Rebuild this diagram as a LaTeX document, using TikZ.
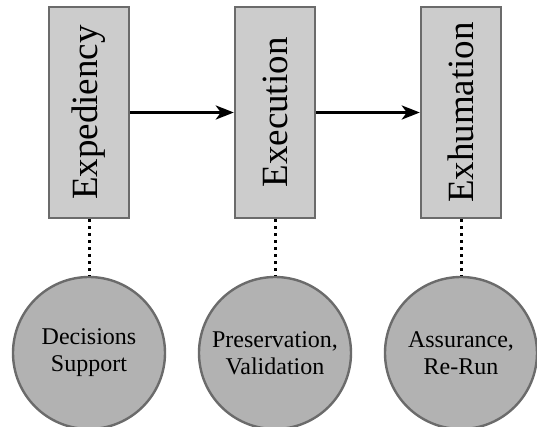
\documentclass[tikz,border=0pt]{standalone}
\usepackage{fontspec}
\setmainfont{LiberationSerif}[Extension=.ttf, UprightFont=*-Regular, BoldFont=*-Bold]
\usetikzlibrary{positioning,arrows.meta}

\begin{document}
\begin{tikzpicture}[x=0.5pt,y=-0.5pt,
    stage/.style={draw=black!58, fill=black!20, line width=1.2pt, rotate=90,
      minimum width=105.5pt, minimum height=40pt, inner sep=0pt,
      font=\rmfamily\fontsize{18.5}{22}\selectfont},
    role/.style={circle, draw=black!58, fill=black!30, line width=1.2pt,
      minimum size=76pt, inner sep=0pt, align=center,
      font=\rmfamily\fontsize{12}{13.5}\selectfont}]
    \useasboundingbox (0,0) rectangle (537,427);

    % Stages
    \node[stage] (exp) at (89,112.5) {Expediency};
    \node[stage] (exe) at (275,112.5) {Execution};
    \node[stage] (exh) at (461,112.5) {Exhumation};

    % Roles below each stage
    \node[role] (dec) at (89,353) {Decisions\\Support};
    \node[role] (pre) at (275,353) {Preservation,\\Validation};
    \node[role] (ass) at (461,353) {Assurance,\\Re-Run};

    % Flow
    \draw[line width=1.5pt, -{Stealth[length=9pt,width=7pt,inset=2.5pt]}] (exp) -- (exe);
    \draw[line width=1.5pt, -{Stealth[length=9pt,width=7pt,inset=2.5pt]}] (exe) -- (exh);

    % Links
    \draw[line width=1.5pt, dotted] (exp) -- (dec);
    \draw[line width=1.5pt, dotted] (exe) -- (pre);
    \draw[line width=1.5pt, dotted] (exh) -- (ass);
\end{tikzpicture}
\end{document}
